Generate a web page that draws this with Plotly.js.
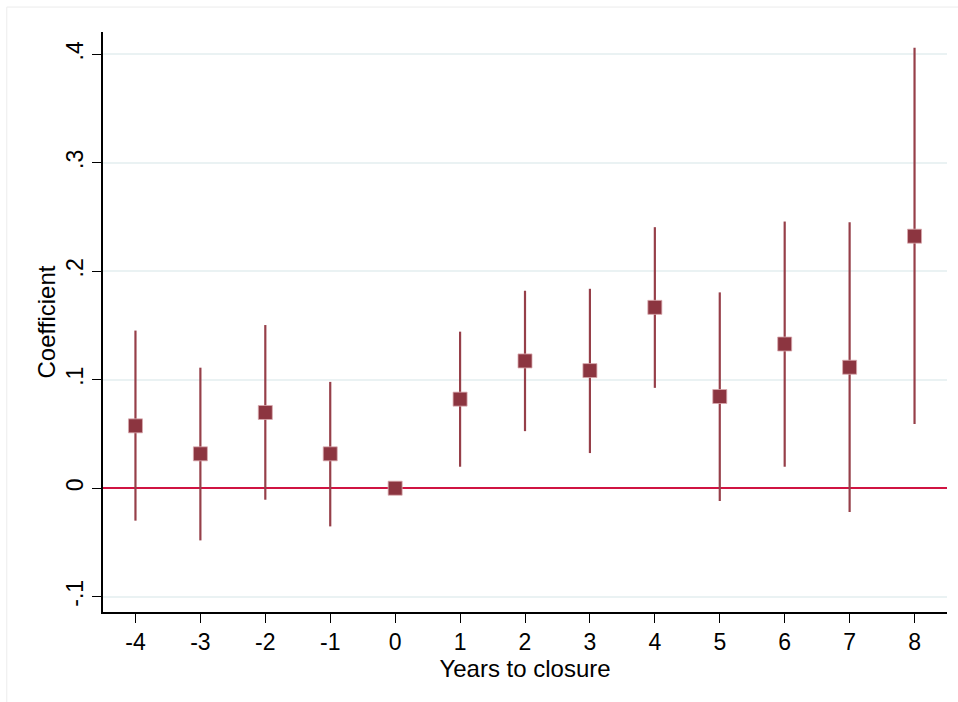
<!DOCTYPE html>
<html>
<head>
<meta charset="utf-8">
<script src="https://cdn.plot.ly/plotly-3.0.1.min.js"></script>
<style>html,body{margin:0;padding:0;background:#fff;}#chart{width:958px;height:702px;}</style>
</head>
<body>
<div id="chart"></div>
<script>
const years = [-4, -3, -2, -1, 0, 1, 2, 3, 4, 5, 6, 7, 8];
const coef  = [0.0575, 0.0317, 0.0698, 0.0317, 0, 0.0821, 0.1173, 0.1084, 0.1667, 0.0845, 0.1329, 0.1115, 0.2323];
const ciHigh = [0.1453, 0.1111, 0.1504, 0.0980, 0, 0.1443, 0.1820, 0.1838, 0.2406, 0.1805, 0.2458, 0.2452, 0.4059];
const ciLow  = [-0.0299, -0.0481, -0.0106, -0.0352, 0, 0.0198, 0.0526, 0.0324, 0.0925, -0.0118, 0.0198, -0.0219, 0.0591];
const yTickVals = [-0.1, 0, 0.1, 0.2, 0.3, 0.4];
const yTickText = ['-.1', '0', '.1', '.2', '.3', '.4'];
const xTickVals = years;
const xTickText = years.map(String);

const plus = coef.map((c, i) => ciHigh[i] - c);
const minus = coef.map((c, i) => c - ciLow[i]);

const trace = {
  x: years,
  y: coef,
  type: 'scatter',
  mode: 'markers',
  marker: {symbol: 'square', size: 14, color: '#8c3540', line: {color: '#d9a9ae', width: 0.8}},
  error_y: {type: 'data', symmetric: false, array: plus, arrayminus: minus,
            color: '#963f49', thickness: 2.2, width: 0, visible: true},
  hoverinfo: 'x+y',
  showlegend: false
};

const font = {family: '"Liberation Sans", Arial, Helvetica, sans-serif', color: '#000', size: 24};

const layout = {
  width: 958, height: 702,
  margin: {l: 103, r: 11, t: 32, b: 90, pad: 0},
  paper_bgcolor: '#fff', plot_bgcolor: '#fff',
  font: font,
  showlegend: false,
  xaxis: {
    range: [-4.5, 8.5],
    tickmode: 'array', tickvals: xTickVals, ticktext: xTickText,
    ticks: 'outside', ticklen: 9, tickwidth: 1.2, tickcolor: '#000',
    showline: true, linecolor: '#000', linewidth: 1.5,
    showgrid: false, zeroline: false,
    tickfont: {size: 23},
    title: {text: 'Years to closure', font: {size: 24}, standoff: 0}
  },
  yaxis: {
    range: [-0.1141, 0.4205],
    tickmode: 'array', tickvals: yTickVals, ticktext: yTickText,
    tickangle: -90,
    ticks: 'outside', ticklen: 9, tickwidth: 1.2, tickcolor: '#000',
    showline: true, linecolor: '#000', linewidth: 1.5,
    showgrid: true, gridcolor: '#eaf2f3', gridwidth: 1.6,
    zeroline: true, zerolinecolor: '#d01442', zerolinewidth: 2,
    tickfont: {size: 23},
    title: {text: 'Coefficient', font: {size: 24}, standoff: 0}
  },
  shapes: [
    {type: 'rect', xref: 'paper', yref: 'paper', x0: -0.114, x1: 1.2, y0: -0.5, y1: 1.043,
     line: {color: '#ececec', width: 1}, fillcolor: 'rgba(0,0,0,0)', layer: 'below'}
  ]
};

Plotly.newPlot('chart', [trace], layout, {displayModeBar: false, responsive: false});
</script>
</body>
</html>
